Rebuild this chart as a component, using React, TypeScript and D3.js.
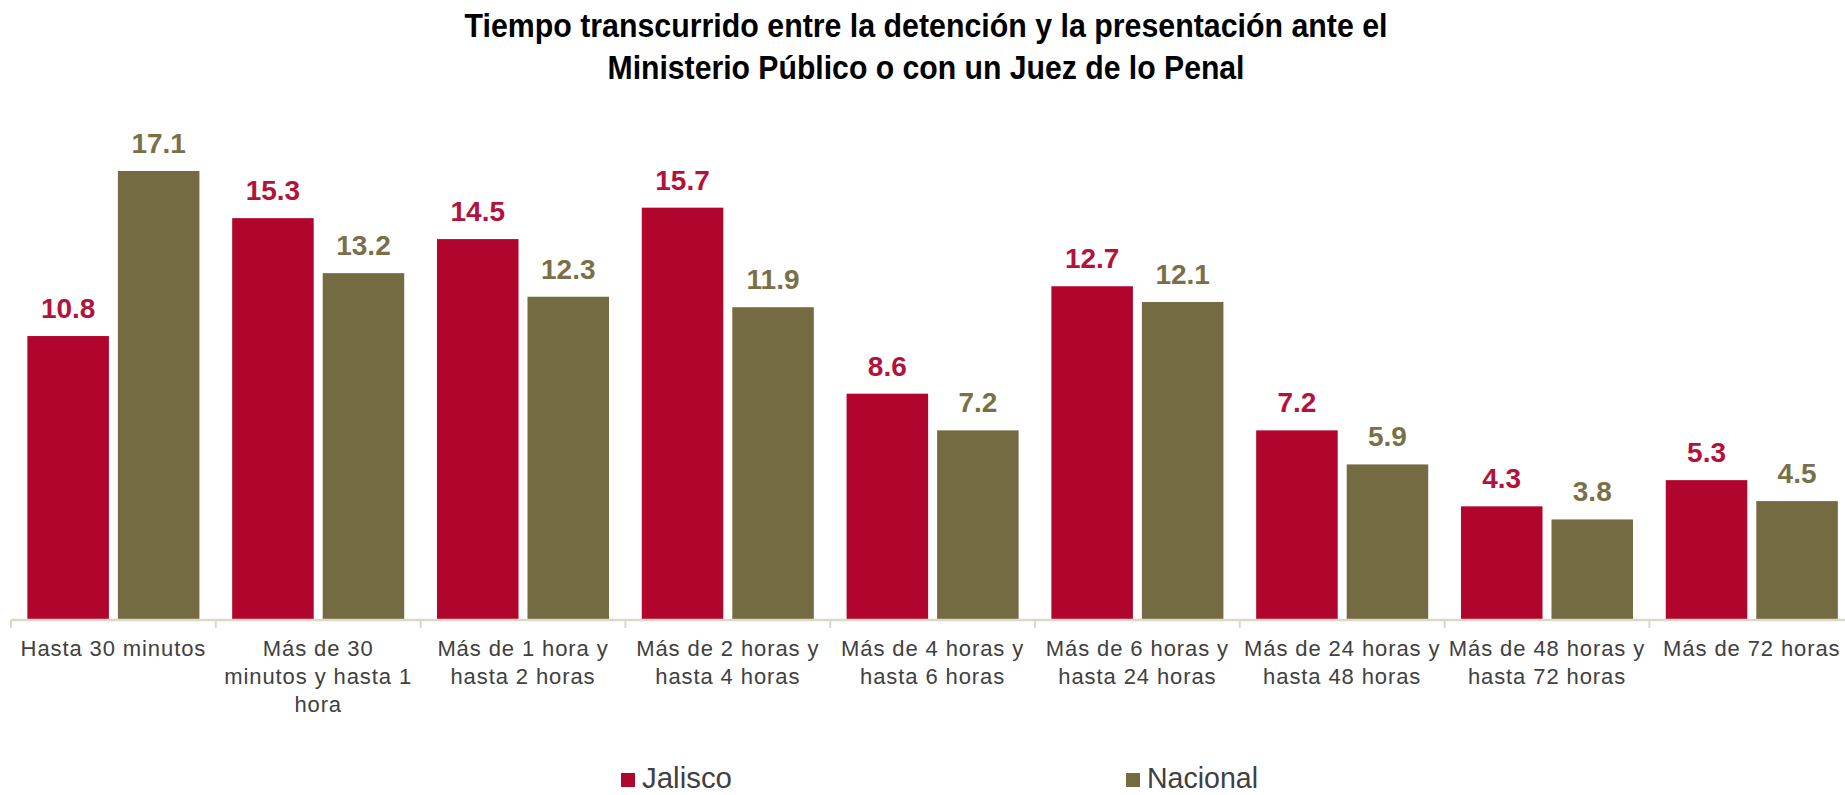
import React from "react";
import * as d3 from "d3";

const categories: string[][] = [
  ["Hasta 30 minutos"],
  ["Más de 30", "minutos y hasta 1", "hora"],
  ["Más de 1 hora y", "hasta 2 horas"],
  ["Más de 2 horas y", "hasta 4 horas"],
  ["Más de 4 horas y", "hasta 6 horas"],
  ["Más de 6 horas y", "hasta 24 horas"],
  ["Más de 24 horas y", "hasta 48 horas"],
  ["Más de 48 horas y", "hasta 72 horas"],
  ["Más de 72 horas"],
];
const jalisco = [10.8, 15.3, 14.5, 15.7, 8.6, 12.7, 7.2, 4.3, 5.3];
const nacional = [17.1, 13.2, 12.3, 11.9, 7.2, 12.1, 5.9, 3.8, 4.5];
const seriesNames = ["Jalisco", "Nacional"];
const titleLines = [
  "Tiempo transcurrido entre la detención y la presentación ante el",
  "Ministerio Público o con un Juez de lo Penal",
];

const W = 1845;
const H = 795;
const COLORS = ["#B1052D", "#756B42"];
const LABEL_COLORS = ["#B3123A", "#7A7048"];

export default function App() {
  const baseY = 619;
  const x0 = d3
    .scaleBand<number>()
    .domain(d3.range(categories.length))
    .range([11, 11 + 9 * 204.8])
    .paddingInner(0)
    .paddingOuter(0);
  const x1 = d3
    .scaleBand<number>()
    .domain([0, 1])
    .range([0, x0.bandwidth()])
    .paddingInner(0.0994)
    .paddingOuter(0.181);
  const y = d3.scaleLinear().domain([0, 20]).range([baseY, baseY - 26.2 * 20]);
  const series = [jalisco, nacional];

  return (
    <svg
      width={W}
      height={H}
      style={{ position: "absolute", left: 0, top: 0, background: "#fff" }}
      fontFamily="'Liberation Sans', Arial, sans-serif"
    >
      <rect x={0} y={0} width={W} height={H} fill="#fff" />
      {/* title */}
      {titleLines.map((t, i) => (
        <text
          key={i}
          x={926}
          y={37 + i * 42}
          textAnchor="middle"
          fontFamily="'Liberation Sans Narrow', 'Liberation Sans', Arial, sans-serif"
          fontWeight="bold"
          fontSize={34}
          fill="#000"
          textLength={i === 0 ? 923 : 637}
          lengthAdjust="spacingAndGlyphs"
        >
          {t}
        </text>
      ))}
      {/* bars */}
      {categories.map((_, ci) => (
        <g key={ci} transform={`translate(${x0(ci)},0)`}>
          {series.map((s, si) => {
            const v = s[ci];
            const bx = x1(si)!;
            const bw = x1.bandwidth();
            return (
              <g key={si}>
                <rect x={bx} y={y(v)} width={bw} height={baseY - y(v)} fill={COLORS[si]} />
                <text
                  x={bx + bw / 2}
                  y={y(v) - 18}
                  textAnchor="middle"
                  fontWeight="bold"
                  fontSize={28}
                  fill={LABEL_COLORS[si]}
                >
                  {v.toFixed(1)}
                </text>
              </g>
            );
          })}
        </g>
      ))}
      {/* axis */}
      <line x1={11} x2={W} y1={620} y2={620} stroke="#DCD8C6" strokeWidth={2.5} />
      {d3.range(categories.length + 1).map((k) => {
        const tx = 11 + k * x0.step();
        return <line key={k} x1={tx} x2={tx} y1={620} y2={628} stroke="#DCD8C6" strokeWidth={2} />;
      })}
      {categories.map((lines, ci) => (
        <text
          key={ci}
          x={x0(ci)! + x0.bandwidth() / 2}
          y={656}
          textAnchor="middle"
          fontSize={22}
          letterSpacing={0.9}
          fill="#404040"
        >
          {lines.map((l, li) => (
            <tspan key={li} x={x0(ci)! + x0.bandwidth() / 2} dy={li === 0 ? 0 : 28}>
              {l}
            </tspan>
          ))}
        </text>
      ))}
      {/* legend */}
      {seriesNames.map((n, i) => {
        const lx = i === 0 ? 621 : 1126;
        return (
          <g key={n}>
            <rect x={lx} y={773} width={14} height={14} fill={COLORS[i]} />
            <text
              x={lx + 21}
              y={788}
              fontSize={29}
              fill="#404040"
              fontFamily="'Liberation Sans Narrow', 'Liberation Sans', Arial, sans-serif"
              textLength={i === 0 ? 90 : 111}
              lengthAdjust="spacingAndGlyphs"
            >
              {n}
            </text>
          </g>
        );
      })}
    </svg>
  );
}
